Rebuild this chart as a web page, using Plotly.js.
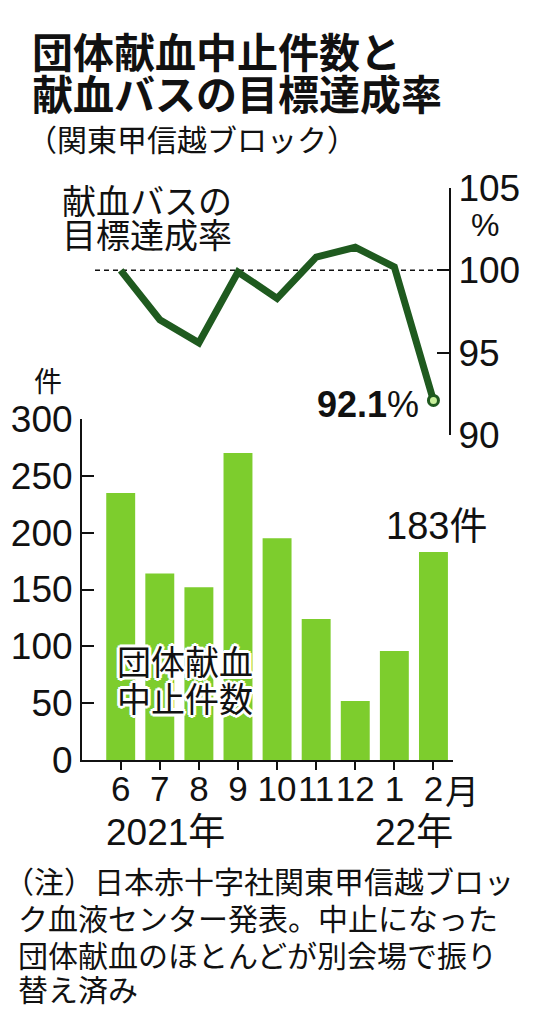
<!DOCTYPE html>
<html>
<head>
<meta charset="utf-8">
<script src="https://cdn.plot.ly/plotly-3.0.1.min.js"></script>
<style>
  html, body { margin: 0; padding: 0; background: #fff; }
  #chart { width: 541px; height: 1024px; }
</style>
</head>
<body>
<div id="chart"></div>
<script>
// months from June 2021 to February 2022
var months = ['6', '7', '8', '9', '10', '11', '12', '1', '2'];
// cancelled group donations (件)
var cancelCounts = [235, 164, 152, 270, 195, 124, 52, 96, 183];
// blood-bus target achievement rate (%)
var busRate = [100.0, 97.0, 95.6, 99.9, 98.3, 100.8, 101.4, 100.2, 92.1];
var countTicks = [0, 50, 100, 150, 200, 250, 300];
var rateTicks = [90, 95, 100, 105];

var W = 541, H = 1024;
function px(x) { return x / W; }
function py(y) { return 1 - y / H; }

var JP = '"Noto Sans CJK JP", sans-serif';
var NUM = '"Liberation Sans", "Noto Sans CJK JP", sans-serif';
var BAR_GREEN = '#7dcd2d';
var LINE_GREEN = '#1f5a1f';
var HALO = '2px 2px 0 #fff, -2px -2px 0 #fff, 2px -2px 0 #fff, -2px 2px 0 #fff, 3px 0 0 #fff, -3px 0 0 #fff, 0 3px 0 #fff, 0 -3px 0 #fff';

var bars = {
  x: months,
  y: cancelCounts,
  type: 'bar',
  width: 0.74,
  marker: { color: BAR_GREEN },
  hoverinfo: 'skip'
};

var rateLine = {
  x: months,
  y: busRate,
  yaxis: 'y2',
  type: 'scatter',
  mode: 'lines',
  line: { color: LINE_GREEN, width: 7 },
  hoverinfo: 'skip'
};

var lastPoint = {
  x: [months[months.length - 1]],
  y: [busRate[busRate.length - 1]],
  yaxis: 'y2',
  type: 'scatter',
  mode: 'markers',
  marker: { size: 10, color: '#c8f09c', line: { color: LINE_GREEN, width: 3 } },
  hoverinfo: 'skip'
};

function note(text, x, y, size, opts) {
  var a = {
    text: text, xref: 'paper', yref: 'paper',
    x: px(x), y: py(y), xanchor: 'left', yanchor: 'middle',
    showarrow: false,
    font: { family: JP, size: size, color: '#111' }
  };
  for (var k in (opts || {})) a[k] = opts[k];
  return a;
}

var annotations = [
  note('団体献血中止件数と', 30, 50, 41, { font: { family: JP, size: 41, color: '#111', weight: 700 } }),
  note('献血バスの目標達成率', 30, 92, 41, { font: { family: JP, size: 41, color: '#111', weight: 700 } }),
  note('（関東甲信越ブロック）', 25, 138, 30),
  note('献血バスの', 60, 199, 34),
  note('目標達成率', 60, 233, 34),
  note('%', 485, 225, 32, { xanchor: 'center', font: { family: NUM, size: 32, color: '#111' } }),
  note('件', 48, 380, 28, { xanchor: 'center' }),
  note('<b>92.1</b>%', 421, 404, 36, { xanchor: 'right', font: { family: NUM, size: 36, color: '#111' } }),
  note('183件', 384, 526, 38, { font: { family: NUM, size: 38, color: '#111' } }),
  note('団体献血', 115, 660, 34, { font: { family: JP, size: 34, color: '#111', shadow: HALO } }),
  note('中止件数', 115, 697, 34, { font: { family: JP, size: 34, color: '#111', shadow: HALO } }),
  note('月', 443, 789, 34),
  note('2021年', 165, 832, 37, { xanchor: 'center', font: { family: NUM, size: 37, color: '#111' } }),
  note('22年', 414, 832, 37, { xanchor: 'center', font: { family: NUM, size: 37, color: '#111' } }),
  note('（注）日本赤十字社関東甲信越ブロッ', 2, 880, 30),
  note('ク血液センター発表。中止になった', 16, 917, 30),
  note('団体献血のほとんどが別会場で振り', 16, 954, 30),
  note('替え済み', 16, 988, 30)
];

var layout = {
  width: W,
  height: H,
  margin: { l: 0, r: 0, t: 0, b: 0 },
  paper_bgcolor: '#fff',
  plot_bgcolor: 'rgba(0,0,0,0)',
  showlegend: false,
  font: { family: NUM, color: '#111' },
  xaxis: {
    type: 'category',
    domain: [px(82), px(453)],
    range: [-0.99, 8.5],
    anchor: 'y',
    tickvals: months,
    ticktext: months,
    tickangle: 0,
    ticks: 'outside', ticklen: 8, tickwidth: 2, tickcolor: '#111',
    ticklabelstandoff: -11,
    showline: true, linecolor: '#111', linewidth: 2,
    showgrid: false, zeroline: false,
    tickfont: { family: NUM, size: 35, color: '#111' }
  },
  yaxis: {
    domain: [py(760), py(419)],
    range: [0, 300],
    tickvals: countTicks,
    ticks: 'inside', ticklen: 12, tickwidth: 2, tickcolor: '#111',
    showline: true, linecolor: '#111', linewidth: 2,
    showgrid: false, zeroline: false,
    tickfont: { family: NUM, size: 37, color: '#111' }
  },
  yaxis2: {
    domain: [py(435), py(188)],
    range: [90, 105],
    anchor: 'free',
    position: px(450),
    side: 'right',
    tickvals: rateTicks,
    ticks: 'inside', ticklen: 12, tickwidth: 2, tickcolor: '#111',
    showline: true, linecolor: '#111', linewidth: 2,
    showgrid: false, zeroline: false,
    tickfont: { family: NUM, size: 37, color: '#111' }
  },
  shapes: [{
    type: 'line', xref: 'paper', yref: 'y2',
    x0: px(95), x1: px(450), y0: 100, y1: 100,
    line: { color: '#111', width: 1.5, dash: '5px,4px' },
    layer: 'below'
  }],
  annotations: annotations
};

Plotly.newPlot('chart', [bars, rateLine, lastPoint], layout, { staticPlot: true, displayModeBar: false });
</script>
</body>
</html>
